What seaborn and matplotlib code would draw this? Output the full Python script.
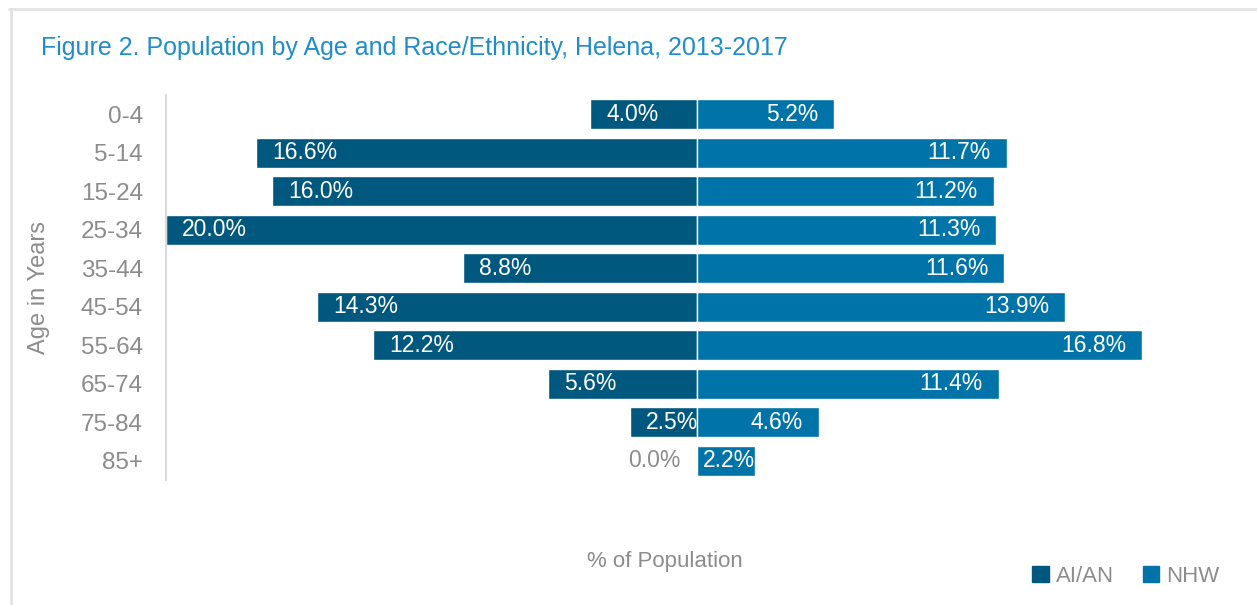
import numpy as np
import pandas as pd
import matplotlib
matplotlib.use("Agg")
import matplotlib.pyplot as plt
import seaborn as sns
from matplotlib.patches import Patch
from matplotlib.lines import Line2D

# datos
ages = ['0-4', '5-14', '15-24', '25-34', '35-44', '45-54', '55-64', '65-74', '75-84', '85+']
aian = [4.0, 16.6, 16.0, 20.0, 8.8, 14.3, 12.2, 5.6, 2.5, 0.0]
nhw = [5.2, 11.7, 11.2, 11.3, 11.6, 13.9, 16.8, 11.4, 4.6, 2.2]
series = ['AI/AN', 'NHW']

c_aian = '#00587F'
c_nhw = '#0073A8'
gris = '#8C8C8C'

sns.set_style('white')
plt.rcParams['font.family'] = ['Liberation Sans Narrow', 'Liberation Sans', 'DejaVu Sans']

df = pd.DataFrame({'age': ages, 'aian': aian, 'nhw': nhw})
df['aian_neg'] = -df['aian']

fig = plt.figure(figsize=(12.57, 6.05), dpi=100)
ax = fig.add_axes([166 / 1257, 1 - 480 / 605, (1227 - 166) / 1257, (480 - 95) / 605])

sns.barplot(data=df, x='aian_neg', y='age', order=ages, color=c_aian,
            orient='h', width=0.79, saturation=1, ax=ax)
sns.barplot(data=df, x='nhw', y='age', order=ages, color=c_nhw,
            orient='h', width=0.79, saturation=1, ax=ax)

ax.set_xlim(-20, 20)
ax.set_ylim(len(ages) - 0.5, -0.5)
ax.set_xticks([])
ax.set_xlabel('')
ax.set_ylabel('Age in Years', fontsize=17, color=gris)
ax.yaxis.set_label_coords(-0.109, 0.5)
ax.tick_params(axis='y', length=0, pad=16.5, labelsize=17.5, labelcolor=gris)
for s in ['top', 'right', 'bottom']:
    ax.spines[s].set_visible(False)
ax.spines['left'].set_color('#D9D9D9')
ax.spines['left'].set_linewidth(1.5)

# etiquetas dentro de las barras
off = 0.6
fs = 16.5
for i, (a, n) in enumerate(zip(aian, nhw)):
    if a == 0:
        ax.text(-off, i, f'{a:.1f}%', ha='right', va='center', fontsize=fs, color=gris)
    else:
        ax.text(-a + off, i, f'{a:.1f}%', ha='left', va='center', fontsize=fs, color='white')
    # barra corta: la etiqueta va pegada al extremo
    xr = n - off if n >= 3 else n
    ax.text(xr, i, f'{n:.1f}%', ha='right', va='center', fontsize=fs, color='white')

fig.text(41 / 1257, 1 - 48.5 / 605, 'Figure 2. Population by Age and Race/Ethnicity, Helena, 2013-2017',
         fontsize=18, color='#1F8DCB', ha='left', va='center')
fig.text(665 / 1257, 1 - 561 / 605, '% of Population', fontsize=16, color=gris,
         ha='center', va='center')

handles = [Patch(color=c_aian), Patch(color=c_nhw)]
fig.legend(handles, series, loc='center right', bbox_to_anchor=(1228 / 1257, 1 - 576 / 605),
           ncol=2, frameon=False, fontsize=16, labelcolor=gris, handlelength=0.75,
           handleheight=0.75, handletextpad=0.3, columnspacing=1.3, borderaxespad=0)

# marco gris del recuadro
fig.add_artist(Line2D([9 / 1257, 1], [1 - 8.5 / 605] * 2, color='#E3E3E3', lw=2))
fig.add_artist(Line2D([11 / 1257] * 2, [0, 1 - 8.5 / 605], color='#E3E3E3', lw=2))

fig.savefig('out.png', dpi=100)
